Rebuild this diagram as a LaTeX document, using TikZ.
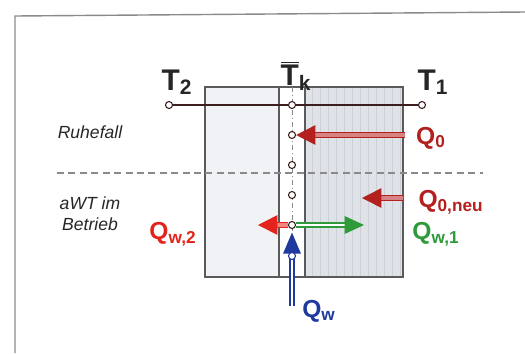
\documentclass[tikz,border=0pt]{standalone}
\usepackage{fontspec}
\setmainfont{Liberation Sans}
\setsansfont{Liberation Sans}
\usetikzlibrary{arrows.meta}
\definecolor{cframe}{HTML}{8A8A8A}
\definecolor{cwall}{HTML}{5A5A5A}
\definecolor{cdark}{HTML}{3C1E1E}
\definecolor{cleft}{HTML}{F0F2F6}
\definecolor{cright}{HTML}{DFE2E7}
\definecolor{cstripe}{HTML}{CBCFD6}
\definecolor{cred}{HTML}{B3201E}
\definecolor{cbright}{HTML}{E4231C}
\definecolor{cgreen}{HTML}{2E9A3A}
\definecolor{cblue}{HTML}{1F3A9E}
\tikzset{
  every picture/.style={font=\sffamily, line width=0.6pt},
  wall/.style={draw=cwall, line width=0.8pt},
  knot/.style={circle, draw=cdark, fill=white, inner sep=0pt, minimum size=4pt, line width=0.6pt},
  tlabel/.style={font=\sffamily\bfseries\fontsize{17}{19}\selectfont, text=black!85},
  qlabel/.style={font=\sffamily\bfseries\fontsize{14}{16}\selectfont, text=#1},
  note/.style={font=\sffamily\itshape\normalsize, align=center, text=black!85},
  flow/.style={draw=#1, double=#1!55, double distance=1.8pt, line width=0.9pt,
    -{Triangle[length=11pt, width=11pt, fill=#1]}},
  hollow/.style={draw=#1, double=white, double distance=1.6pt, line width=0.8pt,
    -{Triangle[length=11pt, width=10pt, fill=#1]}},
}

\begin{document}
\begin{tikzpicture}[x=0.02cm, y=-0.02cm]
  \useasboundingbox (0,0) rectangle (525,353);
  \draw[cframe, line width=0.8pt] (15,353) -- (15,16) -- (525,12);

  \fill[cleft] (205,87) rectangle (279,277);
  \fill[cright] (305,87) rectangle (403,277);
  \foreach \x in {312,320,...,400}
    \draw[cstripe, line width=0.4pt] (\x,88) -- (\x,276);
  \draw[wall] (205,87) rectangle (403,277);
  \draw[wall] (279,87) -- (279,277);
  \draw[wall] (305,87) -- (305,277);

  \coordinate (sepl) at (57,173);
  \coordinate (sepr) at (483,173);
  \draw[cframe, dashed, dash pattern=on 4pt off 2.5pt, line width=0.7pt] (sepl) -- (sepr);

  \coordinate (axtop) at (292,87);
  \coordinate (axbot) at (292,277);
  \draw[cframe, line width=0.5pt, dash pattern=on 3pt off 1.5pt on 0.6pt off 1.5pt] (axtop) -- (axbot);

  \node[knot] (t2) at (169,105) {};
  \node[knot] (t1) at (422,105) {};
  \node[knot] (k1) at (292,105) {};
  \draw[cdark, line width=0.9pt] (t2) -- (k1) -- (t1);

  \coordinate (q0s) at (405,135);
  \coordinate (qns) at (403,198);
  \coordinate (qne) at (362,198);
  \coordinate (w2e) at (258,225);
  \coordinate (w1e) at (364,225);
  \coordinate (qws) at (292,306);

  \node[knot] (k2) at (292,135) {};
  \node[knot] (k3) at (292,165) {};
  \node[knot] (k4) at (292,195) {};
  \node[knot] (k5) at (292,225) {};

  \draw[flow=cred] (q0s) -- (k2);
  \draw[flow=cred] (qns) -- (qne);
  \draw[flow=cbright] (k5) -- (w2e);
  \draw[hollow=cgreen] (k5) -- (w1e);
  \draw[hollow=cblue, -{Triangle[length=12pt, width=10pt, fill=cblue]}, shorten >=2pt] (qws) -- (k5);
  \node[knot, draw=cblue] (k6) at (292,256) {};

  \node[tlabel] (lt2) at (177,82) {T\textsubscript{2}};
  \node[tlabel] (ltk) at (296,76) {$\overline{\mbox{T}}$\textsubscript{k}};
  \node[tlabel] (lt1) at (433,82) {T\textsubscript{1}};

  \node[qlabel=cred] (lq0) at (431,138) {Q\textsubscript{0}};
  \node[qlabel=cred] (lqn) at (451,202) {Q\textsubscript{0,neu}};
  \node[qlabel=cbright] (lw2) at (173,234) {Q\textsubscript{w,2}};
  \node[qlabel=cgreen] (lw1) at (436,234) {Q\textsubscript{w,1}};
  \node[qlabel=cblue] (lqw) at (319,311) {Q\textsubscript{w}};

  \node[note] (ruhe) at (90,132) {Ruhefall};
  \node[note] (betr) at (90,214) {aWT im\\Betrieb};
\end{tikzpicture}
\end{document}
